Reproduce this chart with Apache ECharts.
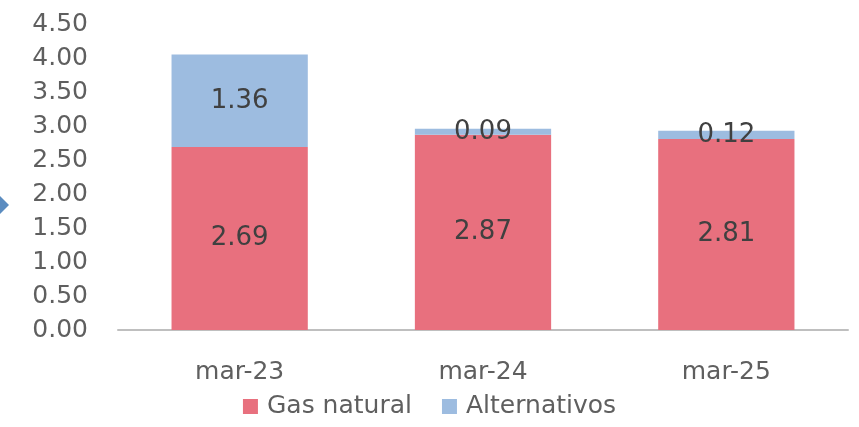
<!DOCTYPE html>
<html>
<head>
<meta charset="utf-8">
<script src="https://cdn.jsdelivr.net/npm/echarts@6/dist/echarts.min.js"></script>
<style>
  html, body { margin: 0; padding: 0; background: #fff; }
  #chart { width: 859px; height: 427px; }
</style>
</head>
<body>
<div id="chart"></div>
<script>
const categories = ['mar-23', 'mar-24', 'mar-25'];
const gasNatural = [2.69, 2.87, 2.81];
const alternativos = [1.36, 0.09, 0.12];

document.addEventListener('DOMContentLoaded', () => {
    const chart = echarts.init(document.getElementById('chart'));
    const font = '"DejaVu Sans", sans-serif';
    const labelStyle = { show: true, position: 'inside', color: '#404040', fontSize: 26, fontFamily: font,
        formatter: p => p.value.toFixed(2) };
    chart.setOption({
        animation: false,
        textStyle: { fontFamily: font },
        grid: { top: 24, left: 118, right: 11, bottom: 97 },
        legend: {
            data: ['Gas natural', 'Alternativos'],
            bottom: 3,
            left: 'center',
            icon: 'rect',
            itemWidth: 15,
            itemHeight: 15,
            itemGap: 30,
            textStyle: { color: '#5f5f5f', fontSize: 25, fontFamily: font, padding: [0, 0, 0, 4] }
        },
        xAxis: {
            type: 'category',
            data: categories,
            axisLine: { lineStyle: { color: '#bfbfbf', width: 2 } },
            axisTick: { show: false },
            axisLabel: { color: '#5f5f5f', fontSize: 25, margin: 30, fontFamily: font }
        },
        yAxis: {
            type: 'value',
            min: 0,
            max: 4.5,
            interval: 0.5,
            axisLine: { show: false },
            axisTick: { show: false },
            splitLine: { show: false },
            axisLabel: { color: '#5f5f5f', fontSize: 25, margin: 30, fontFamily: font,
                formatter: v => v.toFixed(2) }
        },
        series: [
            { name: 'Gas natural', type: 'bar', stack: 'total', data: gasNatural, barWidth: '56%',
              itemStyle: { color: '#E8707E' }, label: labelStyle },
            { name: 'Alternativos', type: 'bar', stack: 'total', data: alternativos, barWidth: '56%',
              itemStyle: { color: '#9DBCE0' }, label: labelStyle }
        ],
        graphic: [{
            type: 'polygon',
            shape: { points: [[0, 196], [9, 205], [0, 214], [-9, 205]] },
            style: { fill: '#5B8CC0' }
        }]
    });
});
</script>
</body>
</html>
